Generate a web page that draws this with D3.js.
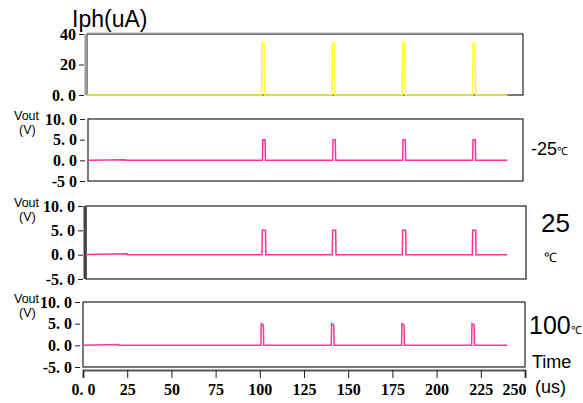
<!DOCTYPE html>
<html>
<head>
<meta charset="utf-8">
<script src="https://cdn.jsdelivr.net/npm/d3@7"></script>
<style>
  body { margin: 0; background: #fff; }
  svg { display: block; }
  .tick text { font-family: "Liberation Serif", serif; font-weight: bold; font-size: 16px; fill: #000; }
  .lbl { font-family: "Liberation Sans", Arial, sans-serif; fill: #000; }
</style>
</head>
<body>
<svg id="chart" width="583" height="403"></svg>
<script>
// time axis
var xTicks = [0, 25, 50, 75, 100, 125, 150, 175, 200, 225, 250];
var xTickLabels = ["0. 0", "25", "50", "75", "100", "125", "150", "175", "200", "225", "250"];

// Iph (uA) trace: [time us, current uA]
var iphData = [
    [0, 0], [101.0, 0], [101.2, 34], [102.4, 34], [102.6, 0],
    [140.8, 0], [141.0, 34], [142.2, 34], [142.4, 0],
    [180.6, 0], [180.8, 34], [182.0, 34], [182.2, 0],
    [220.4, 0], [220.6, 34], [221.6, 34], [222.2, 0],
    [240, 0]
];
var iphTicks = [0, 20, 40];
var iphTickLabels = ["0. 0", "20", "40"];

// Vout (V) traces at three temperatures
var vout_m25 = [
    [0, 0], [24, 0.15], [24.2, 0], [101.5, 0], [101.7, 5], [103.0, 5], [103.2, 0],
    [141.2, 0], [141.4, 5], [142.7, 5], [142.9, 0],
    [180.8, 0], [181.0, 5], [182.3, 5], [182.5, 0],
    [220.4, 0], [220.6, 5], [221.9, 5], [222.1, 0], [240, 0]
];
var vout_25 = [
    [0, 0], [25, 0.2], [25.2, 0], [101.2, 0], [101.4, 5], [103.2, 5], [103.4, 0],
    [141.0, 0], [141.2, 5], [142.9, 5], [143.1, 0],
    [180.6, 0], [180.8, 5], [182.5, 5], [182.7, 0],
    [220.2, 0], [220.4, 5], [222.1, 5], [222.3, 0], [240, 0]
];
var vout_100 = [
    [0, 0], [20, 0.2], [20.2, 0], [100.6, 0], [100.8, 5], [102.0, 4.7], [102.2, 0],
    [140.4, 0], [140.6, 5], [141.8, 4.7], [142.0, 0],
    [180.2, 0], [180.4, 5], [181.6, 4.7], [181.8, 0],
    [219.8, 0], [220.0, 5], [221.2, 4.7], [221.4, 0], [240, 0]
];
var voutTicks = [-5, 0, 5, 10];
var voutTickLabels = ["-5. 0", "0. 0", "5. 0", "10. 0"];

var svg = d3.select("#chart");

var x = d3.scaleLinear().domain([0, 250]).range([83, 525]);

var panels = [
    { left: 87, right: 523, top: 34, bottom: 95, domain: [0, 40], ticks: iphTicks, labels: iphTickLabels,
      data: iphData, color: "#ffff33", width: 1.6, thick: true },
    { left: 88, right: 523, top: 119, bottom: 181, domain: [-5, 10], ticks: voutTicks, labels: ["-5 0", "0. 0", "5. 0", "10. 0"],
      data: vout_m25, color: "#ff3399", width: 1.5, thick: false },
    { left: 86, right: 526, top: 206, bottom: 279, domain: [-5, 10], ticks: voutTicks, labels: voutTickLabels,
      data: vout_25, color: "#ff3399", width: 1.5, thick: true },
    { left: 83, right: 525, top: 302, bottom: 367, domain: [-5, 10], ticks: voutTicks, labels: voutTickLabels,
      data: vout_100, color: "#ff3399", width: 1.5, thick: false }
];

panels.forEach(function(p, i) {
    var y = d3.scaleLinear().domain(p.domain).range([p.bottom, p.top]);
    var g = svg.append("g");

    g.append("clipPath").attr("id", "clip" + i)
        .append("rect")
            .attr("x", p.left).attr("y", p.top - 2)
            .attr("width", p.right - p.left).attr("height", p.bottom - p.top + 4);

    var line = d3.line()
        .x(function(d) { return x(d[0]); })
        .y(function(d) { return y(d[1]); });

    // frame
    g.append("rect")
        .attr("x", p.left).attr("y", p.top)
        .attr("width", p.right - p.left).attr("height", p.bottom - p.top)
        .attr("fill", "none").attr("stroke", "#222").attr("stroke-width", 1.2);

    if (p.thick) {
        g.append("line")
            .attr("x1", p.left - 1).attr("x2", p.left - 1)
            .attr("y1", p.top).attr("y2", p.bottom)
            .attr("stroke", i === 0 ? "#999" : "#444").attr("stroke-width", 3);
    }
    if (i === 0) {
        g.append("line")
            .attr("x1", p.left).attr("x2", p.right)
            .attr("y1", p.top - 1).attr("y2", p.top - 1)
            .attr("stroke", "#aaa").attr("stroke-width", 1);
    }

    g.append("path")
        .datum(p.data)
        .attr("clip-path", "url(#clip" + i + ")")
        .attr("d", line)
        .attr("fill", "none")
        .attr("stroke", p.color)
        .attr("stroke-width", p.width);

    var axis = d3.axisLeft(y)
        .tickValues(p.ticks)
        .tickSize(5)
        .tickPadding(3)
        .tickFormat(function(d, k) { return p.labels[k]; });

    var ag = g.append("g")
        .attr("transform", "translate(" + (p.left - 3) + ",0)")
        .call(axis);
    ag.select(".domain").remove();
    ag.selectAll(".tick line").attr("stroke", "#222");

    if (i > 0) {
        var yl = g.append("text").attr("class", "lbl").attr("font-size", 12.5);
        yl.append("tspan").attr("x", 14).attr("y", p.top + 1).text("Vout");
        yl.append("tspan").attr("x", 19).attr("y", p.top + 15).text("(V)");
    }
});

// bottom time axis
var xAxis = d3.axisBottom(x)
    .tickValues(xTicks)
    .tickSize(8)
    .tickPadding(6)
    .tickFormat(function(d, k) { return xTickLabels[k]; });

var xg = svg.append("g")
    .attr("transform", "translate(0,370)")
    .call(xAxis);
xg.select(".domain").attr("stroke", "#555").attr("stroke-width", 2);
xg.selectAll(".tick line").attr("stroke", "#222");
xg.selectAll(".tick").filter(function(d) { return d === 250; })
    .select("text").attr("text-anchor", "end").attr("dx", 1);

// labels
function degLabel(xp, yp, size, main) {
    var t = svg.append("text").attr("class", "lbl").attr("x", xp).attr("y", yp)
        .attr("font-size", size);
    t.append("tspan").text(main);
    t.append("tspan").attr("font-size", 11).text("℃");
}

svg.append("text").attr("class", "lbl").attr("x", 72).attr("y", 27)
    .attr("font-size", 23).text("Iph(uA)");
degLabel(531, 155, 18, "-25");
svg.append("text").attr("class", "lbl").attr("x", 541).attr("y", 232)
    .attr("font-size", 26).text("25");
svg.append("text").attr("class", "lbl").attr("x", 544).attr("y", 262)
    .attr("font-size", 13).text("℃");
degLabel(529, 334, 25, "100");
svg.append("text").attr("class", "lbl").attr("x", 532).attr("y", 368)
    .attr("font-size", 18).text("Time");
svg.append("text").attr("class", "lbl").attr("x", 535).attr("y", 393)
    .attr("font-size", 18).text("(us)");
</script>
</body>
</html>
